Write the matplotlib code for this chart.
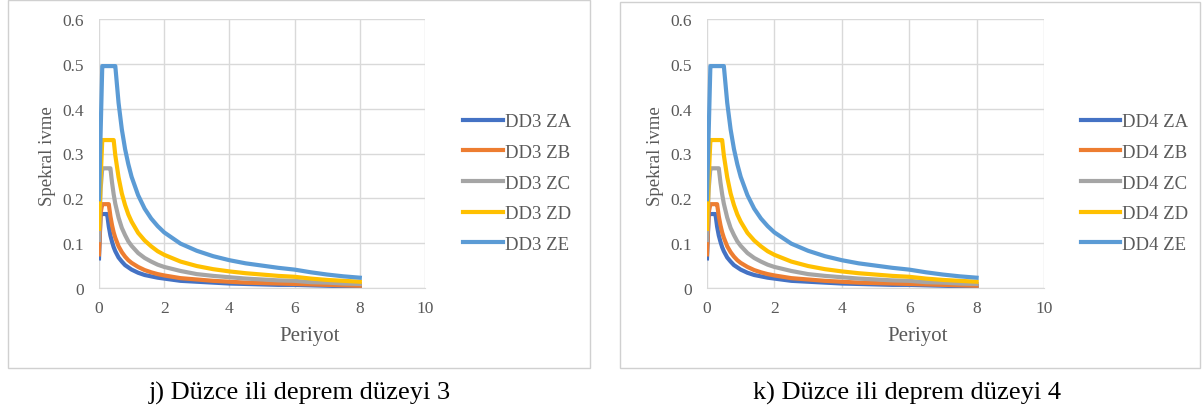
import matplotlib
matplotlib.use("Agg")
import matplotlib.pyplot as plt
from matplotlib.patches import Rectangle

# data (both panels look the same)
periyot = [0, 0.05, 0.1, 0.15, 0.2, 0.25, 0.3, 0.35, 0.4, 0.45, 0.5, 0.6, 0.7, 0.8, 0.9, 1.0,
           1.2, 1.4, 1.6, 1.8, 2.0, 2.5, 3.0, 3.5, 4.0, 4.5, 5.0, 5.5, 6.0, 6.5, 7.0, 7.5, 8.0]

za = [0.066, 0.165, 0.165, 0.165, 0.165, 0.165, 0.137, 0.117, 0.103, 0.091, 0.082, 0.068, 0.059,
      0.051, 0.046, 0.041, 0.034, 0.029, 0.026, 0.023, 0.021, 0.016, 0.014, 0.012, 0.010, 0.009,
      0.008, 0.007, 0.007, 0.006, 0.005, 0.004, 0.004]
zb = [0.075, 0.168, 0.187, 0.187, 0.187, 0.187, 0.187, 0.160, 0.140, 0.124, 0.112, 0.093, 0.080,
      0.070, 0.062, 0.056, 0.047, 0.040, 0.035, 0.031, 0.028, 0.022, 0.019, 0.016, 0.014, 0.012,
      0.011, 0.010, 0.009, 0.008, 0.007, 0.006, 0.005]
zc = [0.107, 0.221, 0.267, 0.267, 0.267, 0.267, 0.267, 0.267, 0.235, 0.209, 0.188, 0.157, 0.134,
      0.118, 0.104, 0.094, 0.078, 0.067, 0.059, 0.052, 0.047, 0.038, 0.031, 0.027, 0.024, 0.021,
      0.019, 0.017, 0.016, 0.013, 0.012, 0.010, 0.009]
zd = [0.132, 0.242, 0.330, 0.330, 0.330, 0.330, 0.330, 0.330, 0.330, 0.330, 0.296, 0.247, 0.211,
      0.185, 0.164, 0.148, 0.123, 0.106, 0.093, 0.082, 0.074, 0.059, 0.049, 0.042, 0.037, 0.033,
      0.030, 0.027, 0.025, 0.021, 0.018, 0.016, 0.014]
ze = [0.198, 0.347, 0.495, 0.495, 0.495, 0.495, 0.495, 0.495, 0.495, 0.495, 0.495, 0.413, 0.354,
      0.310, 0.276, 0.248, 0.207, 0.177, 0.155, 0.138, 0.124, 0.099, 0.083, 0.071, 0.062, 0.055,
      0.050, 0.045, 0.041, 0.035, 0.030, 0.026, 0.023]

zemin = ["ZA", "ZB", "ZC", "ZD", "ZE"]
renkler = ["#4472C4", "#ED7D31", "#A5A5A5", "#FFC000", "#5B9BD5"]
paneller = [("DD3", "j) Düzce ili deprem düzeyi 3"), ("DD4", "k) Düzce ili deprem düzeyi 4")]

plt.rcParams['font.family'] = ['Liberation Serif', 'DejaVu Serif']

W, H = 1202, 414
fig = plt.figure(figsize=(W / 100, H / 100), dpi=100)

# px boxes: (box left, box right, box top, plot left, plot right, legend x, caption x)
kutular = [(8, 590, 1, 99, 425, 456, 300), (620, 1200, 3, 707, 1044, 1073, 907)]
tick_c = "#595959"
grid_c = "#d9d9d9"

for (dd, baslik), (bx0, bx1, by0, px0, px1, lx, cx) in zip(paneller, kutular):
    fig.patches.append(Rectangle((bx0 / W, 1 - 369 / H), (bx1 - bx0) / W, (369 - by0) / H,
                                 transform=fig.transFigure, fill=False,
                                 edgecolor="#d0d0d0", lw=1))
    ax = fig.add_axes([px0 / W, 1 - 289 / H, (px1 - px0) / W, 269 / H])
    for seri, z, c in zip([za, zb, zc, zd, ze], zemin, renkler):
        ax.plot(periyot, seri, color=c, lw=3, label=f"{dd} {z}")
    ax.set_xlim(0, 10)
    ax.set_ylim(0, 0.6)
    ax.set_xticks([0, 2, 4, 6, 8, 10])
    ax.set_yticks([0, 0.1, 0.2, 0.3, 0.4, 0.5, 0.6])
    ax.set_yticklabels(["0", "0.1", "0.2", "0.3", "0.4", "0.5", "0.6"])
    ax.grid(True, color=grid_c, lw=1)
    ax.set_axisbelow(True)
    for s in ax.spines.values():
        s.set_visible(False)
    ax.spines["bottom"].set_visible(True)
    ax.spines["bottom"].set_color(grid_c)
    ax.tick_params(length=0, labelsize=12.5, labelcolor=tick_c)
    ax.tick_params(axis="y", pad=11)
    ax.tick_params(axis="x", pad=9)
    fig.text((px0 - 52) / W, 1 - 156 / H, "Spekral ivme", rotation=90, ha="center",
             va="center", fontsize=13.5, color=tick_c)
    fig.text((px0 + 211) / W, 1 - 336 / H, "Periyot", ha="center", va="center",
             fontsize=15, color=tick_c)
    leg = ax.legend(loc="center left", bbox_to_anchor=((lx - px0) / (px1 - px0), 0.39),
                    frameon=False, fontsize=13.5, handlelength=2.1, handletextpad=0.1,
                    labelspacing=0.72, borderaxespad=0)
    for t in leg.get_texts():
        t.set_color(tick_c)
    fig.text(cx / W, 1 - 393 / H, baslik, ha="center", va="center", fontsize=19, color="black")

fig.savefig("out.png", dpi=100)
